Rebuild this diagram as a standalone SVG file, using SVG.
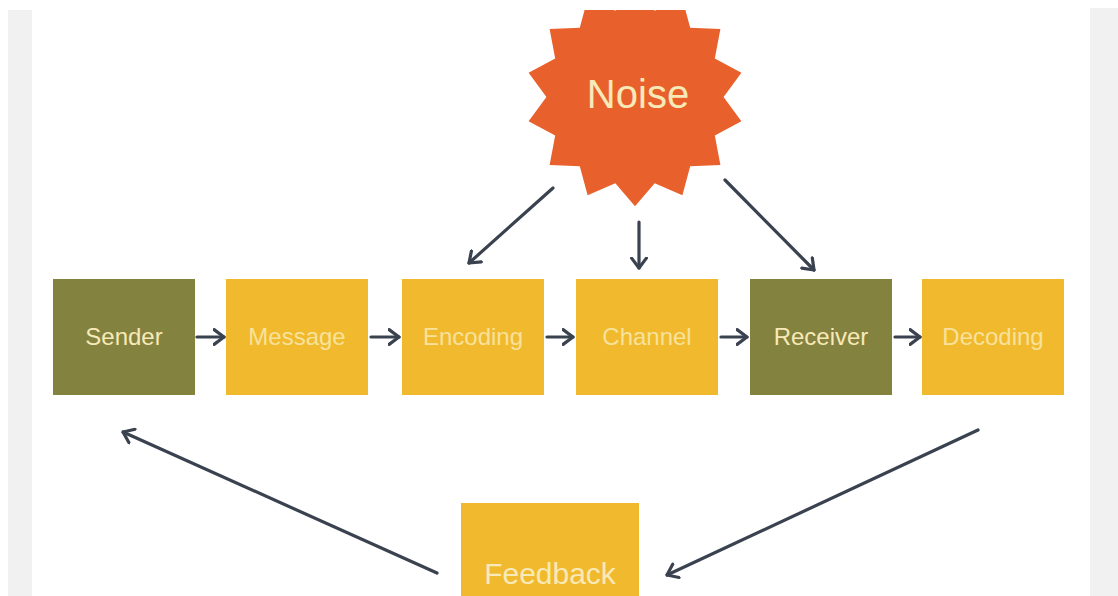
<svg xmlns="http://www.w3.org/2000/svg" width="1118" height="596" viewBox="0 0 1118 596">
  <style>
    .olive { fill: #84823f; }
    .yellow { fill: #f1b92d; }
    .lbl { font-family: "Liberation Sans", Arial, sans-serif; font-size: 24px; fill: #f8e9b8; text-anchor: middle; }
    .ly { fill: #f7e29c; }
    .conn { stroke: #3a4250; stroke-width: 3.2; fill: none; stroke-linecap: round; marker-end: url(#ah); }
  </style>
  <defs>
    <marker id="ah" viewBox="0 0 13 18" refX="11.5" refY="9" markerWidth="13" markerHeight="18" markerUnits="userSpaceOnUse" orient="auto">
      <path d="M1.6,1.6 L11.5,9 L1.6,16.4" fill="none" stroke="#3a4250" stroke-width="3.2" stroke-linecap="round" stroke-linejoin="round"/>
    </marker>
    <clipPath id="topclip" clipPathUnits="userSpaceOnUse">
      <rect x="0" y="10" width="1118" height="586"/>
    </clipPath>
  </defs>
  <rect x="0" y="0" width="1118" height="596" fill="#ffffff"/>
  <rect x="8" y="10" width="24" height="586" fill="#f1f1f1"/>
  <rect x="1090" y="8" width="28" height="588" fill="#f1f1f1"/>

  <g id="noise" clip-path="url(#topclip)">
    <polygon transform="translate(635 97) scale(1.03)" fill="#e8612c" points="0,106 -19.1,83.8 -46,95.5 -53.6,67.2 -82.9,66.1 -77.5,37.3 -103.3,23.6 -86,0 -103.3,-23.6 -77.5,-37.3 -82.9,-66.1 -53.6,-67.2 -46,-95.5 -19.1,-83.8 0,-106 19.1,-83.8 46,-95.5 53.6,-67.2 82.9,-66.1 77.5,-37.3 103.3,-23.6 86,0 103.3,23.6 77.5,37.3 82.9,66.1 53.6,67.2 46,95.5 19.1,83.8"/>
    <text x="638" y="108" class="lbl" style="font-size:40px">Noise</text>
  </g>

  <g id="sender"><rect class="olive" x="53" y="279" width="142" height="116"/><text class="lbl" x="124" y="345">Sender</text></g>
  <g id="message"><rect class="yellow" x="226" y="279" width="142" height="116"/><text class="lbl ly" x="297" y="345">Message</text></g>
  <g id="encoding"><rect class="yellow" x="402" y="279" width="142" height="116"/><text class="lbl ly" x="473" y="345">Encoding</text></g>
  <g id="channel"><rect class="yellow" x="576" y="279" width="142" height="116"/><text class="lbl ly" x="647" y="345">Channel</text></g>
  <g id="receiver"><rect class="olive" x="750" y="279" width="142" height="116"/><text class="lbl" x="821" y="345">Receiver</text></g>
  <g id="decoding"><rect class="yellow" x="922" y="279" width="142" height="116"/><text class="lbl ly" x="993" y="345">Decoding</text></g>
  <g id="feedback"><rect class="yellow" x="461" y="503" width="178" height="100"/><text class="lbl" x="550" y="584" style="font-size:30px">Feedback</text></g>

  <g id="connectors">
    <line class="conn" x1="197" y1="337" x2="224" y2="337"/>
    <line class="conn" x1="371" y1="337" x2="399" y2="337"/>
    <line class="conn" x1="547" y1="337" x2="573" y2="337"/>
    <line class="conn" x1="721" y1="337" x2="747" y2="337"/>
    <line class="conn" x1="895" y1="337" x2="920" y2="337"/>
    <line class="conn" x1="553" y1="188" x2="469" y2="263"/>
    <line class="conn" x1="639" y1="222" x2="639" y2="268"/>
    <line class="conn" x1="725" y1="180" x2="814" y2="270"/>
    <line class="conn" x1="437" y1="573" x2="123" y2="432"/>
    <line class="conn" x1="978" y1="430" x2="667" y2="575"/>
  </g>
</svg>
